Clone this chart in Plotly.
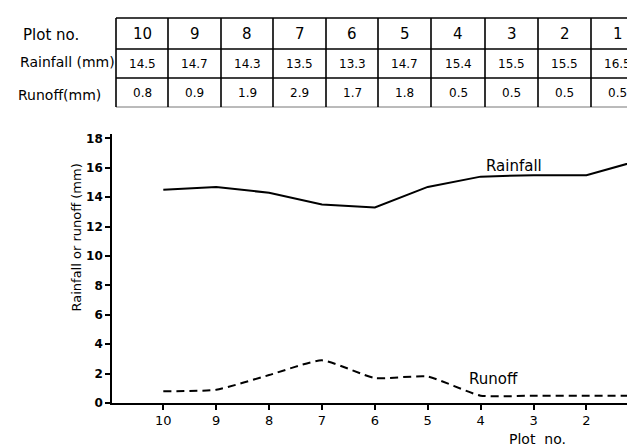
import plotly.graph_objects as go

plot_no = [10, 9, 8, 7, 6, 5, 4, 3, 2, 1]
rainfall = [14.5, 14.7, 14.3, 13.5, 13.3, 14.7, 15.4, 15.5, 15.5, 16.5]
runoff = [0.8, 0.9, 1.9, 2.9, 1.7, 1.8, 0.5, 0.5, 0.5, 0.5]
rainfall_txt = ["14.5", "14.7", "14.3", "13.5", "13.3", "14.7", "15.4", "15.5", "15.5", "16.5"]
runoff_txt = ["0.8", "0.9", "1.9", "2.9", "1.7", "1.8", "0.5", "0.5", "0.5", "0.5"]
row_labels = ["Plot no.", "Rainfall (mm)", "Runoff(mm)"]
y_ticks = [0, 2, 4, 6, 8, 10, 12, 14, 16, 18]

W, H = 635, 447
L, R, T, B = 104, 0, 126, 52
FONT = "'DejaVu Sans', sans-serif"

def px(xp):
    return (xp - L) / (W - L - R)

def py(yp):
    return (H - B - yp) / (H - T - B)

fig = go.Figure()
fig.add_trace(go.Scatter(x=plot_no, y=rainfall, mode="lines",
                         line=dict(color="black", width=2), showlegend=False))
fig.add_trace(go.Scatter(x=plot_no, y=runoff, mode="lines",
                         line=dict(color="black", width=2, dash="8px,5px",
                                   shape="spline", smoothing=0.5),
                         showlegend=False))

shapes = []
annotations = []

# table geometry
col_edges = [108, 160, 213, 265, 318, 370, 423, 477, 530, 583, 636]
row_edges = [10, 41, 70, 99]
for i, yy in enumerate(row_edges):
    shapes.append(dict(type="line", xref="paper", yref="paper",
                       x0=px(col_edges[0]), x1=px(col_edges[-1]), y0=py(yy), y1=py(yy),
                       line=dict(color="black" if i < 3 else "#777", width=1.6 if i < 3 else 1)))
for xx in col_edges[:-1]:
    shapes.append(dict(type="line", xref="paper", yref="paper",
                       x0=px(xx), x1=px(xx), y0=py(row_edges[0]), y1=py(row_edges[-1]),
                       line=dict(color="black", width=1.6)))

row_centers = [26, 56, 85]
label_x = [13, 10, 8]
label_y = [27, 54, 87]
label_size = [15, 14, 14]
for lab, xx, yy, sz in zip(row_labels, label_x, label_y, label_size):
    annotations.append(dict(xref="paper", yref="paper", x=px(xx), y=py(yy), text=lab,
                            showarrow=False, xanchor="left", yanchor="middle",
                            font=dict(family=FONT, size=sz, color="black")))
rows = [[str(p) for p in plot_no], rainfall_txt, runoff_txt]
sizes = [15, 12, 12]
for r, (vals, yy) in enumerate(zip(rows, row_centers)):
    for c, v in enumerate(vals):
        cx = (col_edges[c] + col_edges[c + 1]) / 2
        annotations.append(dict(xref="paper", yref="paper", x=px(cx), y=py(yy), text=v,
                                showarrow=False, xanchor="center", yanchor="middle",
                                font=dict(family=FONT, size=sizes[r], color="black")))

# series labels
annotations.append(dict(x=3.37, y=16.1, text="Rainfall", showarrow=False,
                        font=dict(family=FONT, size=15, color="black")))
annotations.append(dict(x=3.76, y=1.6, text="Runoff", showarrow=False,
                        font=dict(family=FONT, size=15, color="black")))
# axis titles
annotations.append(dict(xref="paper", yref="paper", x=px(58), y=py(230),
                        text="Rainfall or runoff (mm)", textangle=-90, showarrow=False,
                        font=dict(family=FONT, size=13, color="black")))
annotations.append(dict(xref="paper", yref="paper", x=px(560), y=py(441),
                        text="Plot  no.", showarrow=False, yanchor="bottom",
                        font=dict(family=FONT, size=14, color="black")))

fig.update_layout(
    width=W, height=H,
    margin=dict(l=L, r=R, t=T, b=B),
    paper_bgcolor="white", plot_bgcolor="white",
    shapes=shapes, annotations=annotations,
    xaxis=dict(range=[10.97, 0.93], tickvals=plot_no, ticktext=[str(p) for p in plot_no],
               showgrid=False, zeroline=False, showline=True, linecolor="black", linewidth=1.6,
               ticks="outside", ticklen=5, tickcolor="black", tickwidth=1.5,
               tickfont=dict(family=FONT, size=13, color="black")),
    yaxis=dict(range=[0, 18.3], tickvals=y_ticks, ticktext=[str(v) for v in y_ticks],
               showgrid=False, zeroline=False, showline=True, linecolor="black", linewidth=1.6,
               ticks="outside", ticklen=5, tickcolor="black", tickwidth=1.5,
               tickfont=dict(family=FONT, size=12, color="black", weight="bold")),
)

fig.write_html("out.html")
